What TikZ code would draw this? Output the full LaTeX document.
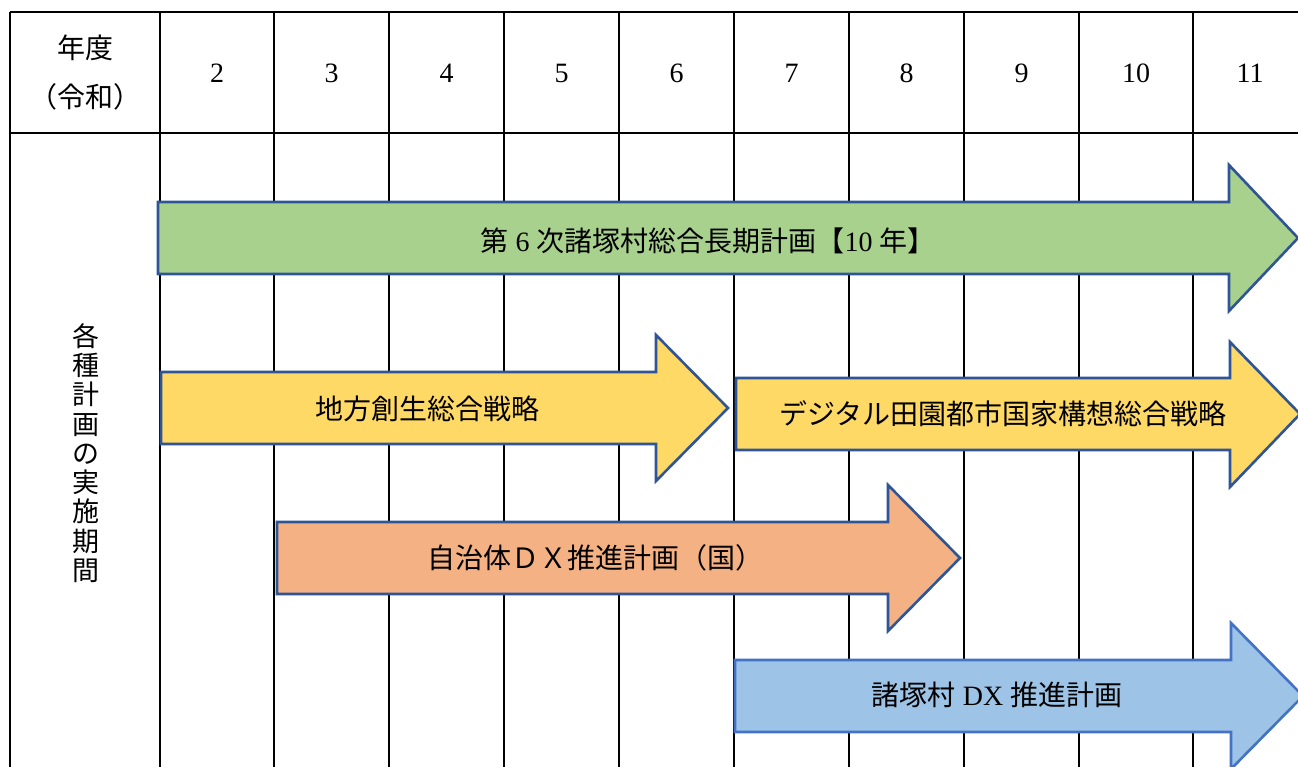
\documentclass[tikz,border=0pt]{standalone}
\usepackage{fontspec}
\setmainfont{Liberation Serif}
\newfontfamily\jp{Noto Sans CJK JP}
\begin{document}
\begin{tikzpicture}[x=1pt,y=-1pt,
  grid/.style={line width=2.4pt,black},
  arr/.style={line width=2.6pt,draw=arrowedge,line join=miter},
  lbl/.style={font=\fontsize{28}{32}\selectfont,inner sep=0pt,text=black},
  hdr/.style={font=\fontsize{28}{32}\selectfont,inner sep=0pt},
]
\definecolor{arrowedge}{HTML}{2F5597}
\definecolor{blueedge}{HTML}{4472C4}
\definecolor{gfill}{HTML}{A9D18E}
\definecolor{yfill}{HTML}{FFD966}
\definecolor{ofill}{HTML}{F4B183}
\definecolor{bfill}{HTML}{9DC3E6}
\useasboundingbox (0,0) rectangle (1298,767);
\fill[white] (0,0) rectangle (1298,767);
% grid
\draw[grid] (10,12) -- (1300,12);
\draw[grid] (10,133) -- (1300,133);
\draw[grid] (10,12) -- (10,770);
\foreach \x in {160,274,389,504,619,734,849,964,1079,1193}
  \draw[grid] (\x,12) -- (\x,770);
% header
\node[hdr] (h1) at (85,48) {\jp 年度};
\node[hdr] (h2) at (85,97) {\jp （令和）};
\foreach \n/\x in {2/217,3/331.5,4/446.5,5/561.5,6/676.5,7/791.5,8/906.5,9/1021.5,10/1136,11/1250}
  \node[hdr] (y\n) at (\x,73) {\n};
\node[hdr,align=center,font=\jp\fontsize{27}{29.3}\selectfont] (side) at (86,453)
  {各\\種\\計\\画\\の\\実\\施\\期\\間};
% arrows
\draw[arr,fill=gfill] (158,202) -- (1229,202) -- (1229,165) -- (1298,238) -- (1229,311) -- (1229,274) -- (158,274) -- cycle;
\draw[arr,fill=yfill] (161,372) -- (656,372) -- (656,335) -- (728,408) -- (656,481) -- (656,444) -- (161,444) -- cycle;
\draw[arr,fill=yfill] (736,378) -- (1230,378) -- (1230,342) -- (1300,414) -- (1230,487) -- (1230,450) -- (736,450) -- cycle;
\draw[arr,fill=ofill] (277,522) -- (888,522) -- (888,485) -- (960,558) -- (888,631) -- (888,594) -- (277,594) -- cycle;
\draw[arr,draw=blueedge,fill=bfill] (735,660) -- (1231,660) -- (1231,623) -- (1303,696) -- (1231,769) -- (1231,732) -- (735,732) -- cycle;
% labels
\node[lbl] (t1) at (708,241) {{\jp 第} 6 {\jp 次諸塚村総合長期計画【}10 {\jp 年】}};
\node[lbl] (t2) at (427,409) {\jp 地方創生総合戦略};
\node[lbl] (t3) at (1003,414) {\jp デジタル田園都市国家構想総合戦略};
\node[lbl] (t4) at (595,558) {\jp 自治体ＤＸ推進計画（国）};
\node[lbl] (t5) at (997,695) {{\jp 諸塚村} DX {\jp 推進計画}};
\end{tikzpicture}
\end{document}
